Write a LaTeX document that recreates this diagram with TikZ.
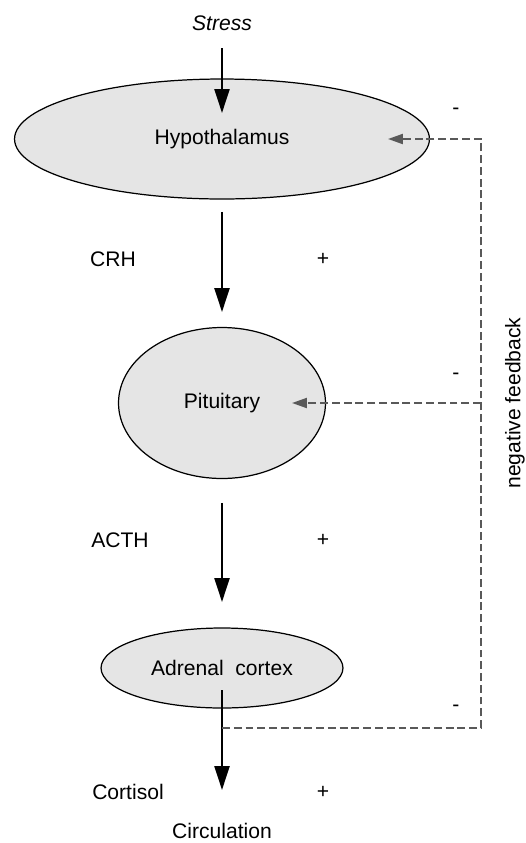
\documentclass[tikz,border=0pt]{standalone}
\usepackage{fontspec}
\setmainfont{Liberation Sans}
\usetikzlibrary{shapes.geometric, arrows.meta}
\begin{document}
\begin{tikzpicture}[
    x=0.02cm, y=-0.02cm,
    every node/.style={font=\fontsize{12}{14}\selectfont},
    organ/.style={ellipse, draw, line width=0.7pt, fill=gray!20, minimum width=#1},
    arrow/.style={-{Triangle[length=4.8mm, width=3mm]}, line width=1.3pt},
    fb/.style={-{Triangle[length=3mm, width=2mm]}, dash pattern=on 4.5pt off 2.2pt, line width=1.2pt, draw=black!65}
]
    \useasboundingbox (0,0) rectangle (526,843);
    \node (stress) at (222,23) {\textit{Stress}};
    \node[organ=8.3cm, minimum height=2.4cm] (hypo) at (222,139) {Hypothalamus};
    \node[organ=4.14cm, minimum height=3.02cm] (pit) at (222,403) {Pituitary};
    \node[organ=4.84cm, minimum height=1.6cm] (adrenal) at (222,668) {Adrenal\ \ cortex};
    \node (circ) at (222,831) {Circulation};
    \node (crh) at (113,259) {CRH};
    \node (acth) at (120,540) {ACTH};
    \node (cort) at (128,792) {Cortisol};
    \node (plus1) at (323,259) {+};
    \node (plus2) at (323,540) {+};
    \node (plus3) at (323,792) {+};
    \node (minus1) at (456,111) {-};
    \node (minus2) at (456,376) {-};
    \node (minus3) at (456,708) {-};
    \node[rotate=90] (neg) at (515,403) {negative feedback};
    \coordinate (fbstart) at (222,728);
    \coordinate (fbtop) at (481,139);
    \coordinate (fbmid) at (481,403);
    \draw[arrow, shorten <=0.5cm, shorten >=0.52cm] (stress.center) -- (hypo.center);
    \draw[arrow, shorten <=1.46cm, shorten >=1.82cm] (hypo.center) -- (pit.center);
    \draw[arrow, shorten <=2cm, shorten >=1.32cm] (pit.center) -- (adrenal.center);
    \draw[arrow, shorten <=0.44cm, shorten >=0.82cm] (adrenal.center) -- (circ.center);
    \draw[fb, shorten >=3.32cm] (fbstart) -| (fbtop) -- (hypo.center);
    \draw[fb, shorten >=1.4cm] (fbmid) -- (pit.center);
\end{tikzpicture}
\end{document}
